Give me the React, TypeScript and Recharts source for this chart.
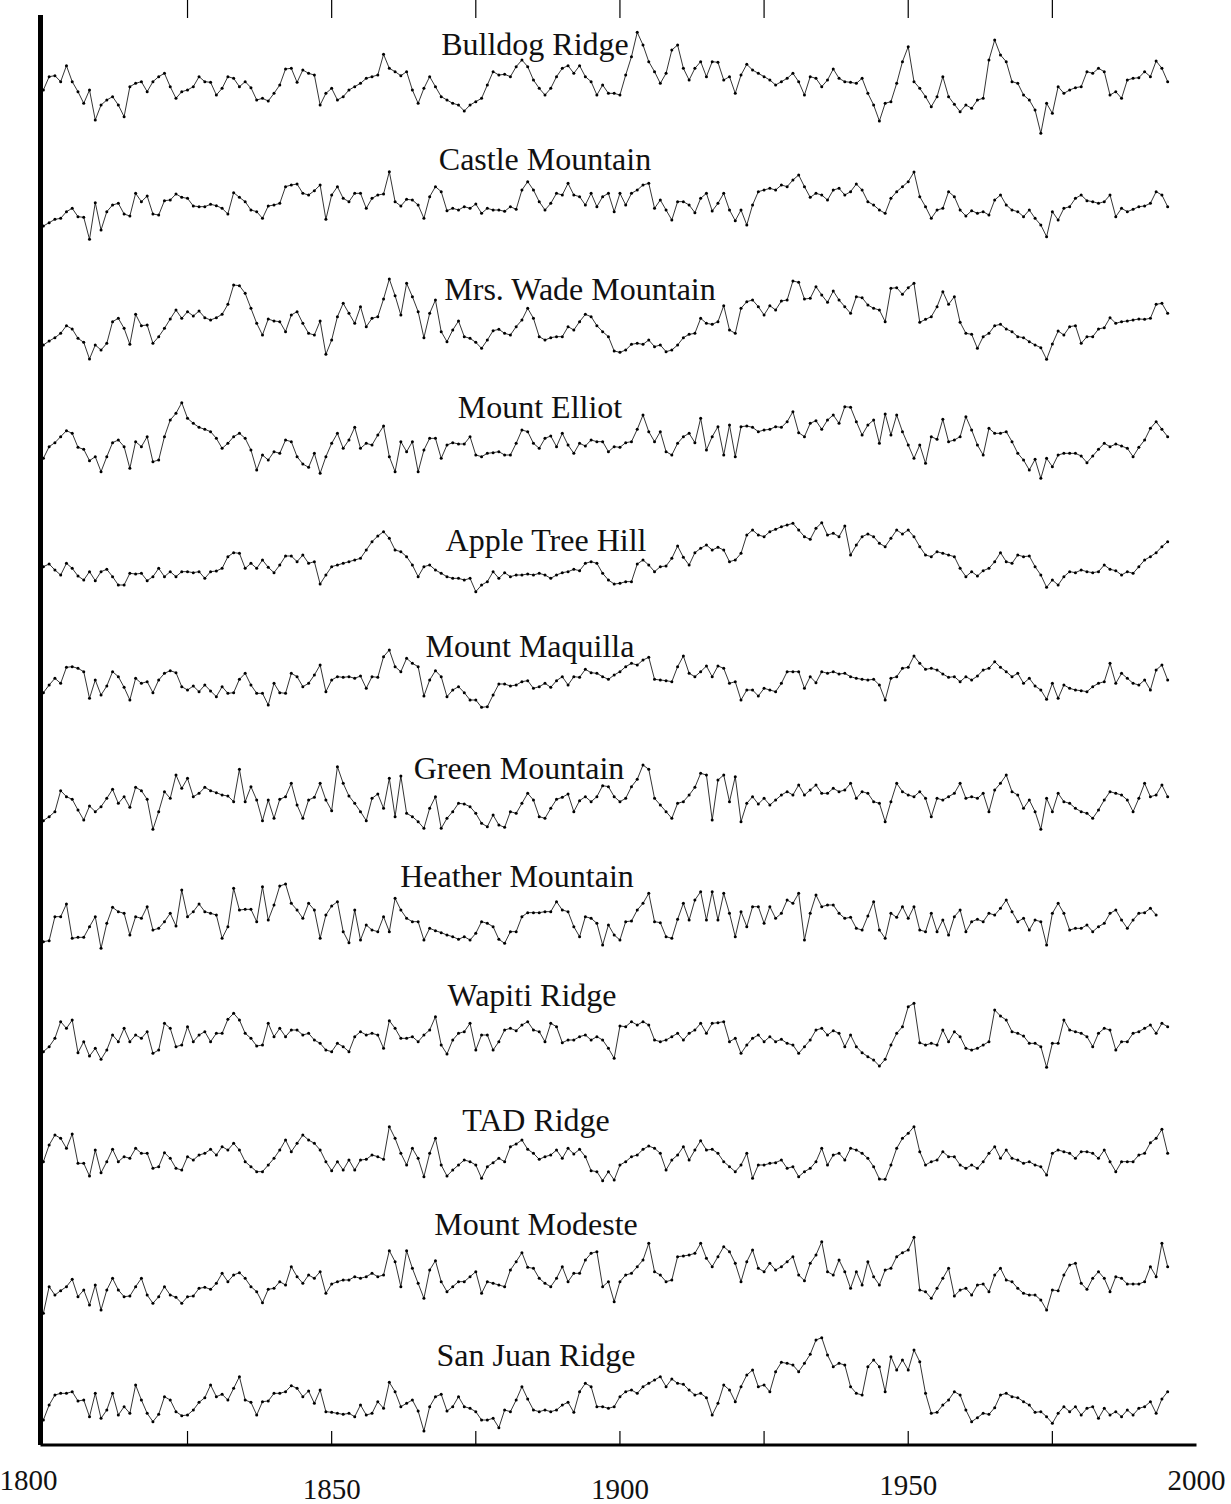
import React from "react";
import { ComposedChart, Line, XAxis, YAxis, ReferenceLine } from "recharts";

// Tree-ring chronologies, one value per year starting at FIRST_YEAR
const FIRST_YEAR = 1800;

const bulldogRidge = [
  205, 245, 248, 230, 278, 230, 200, 165, 205, 115,
  160, 175, 185, 160, 125, 215, 225, 230, 200, 230,
  245, 255, 215, 180, 200, 205, 215, 245, 230, 228,
  190, 210, 245, 240, 215, 230, 212, 175, 180, 172,
  195, 220, 268, 270, 228, 265, 255, 250, 160, 195,
  210, 175, 185, 205, 215, 225, 240, 245, 250, 312,
  270, 260, 248, 260, 205, 165, 210, 245, 215, 185,
  175, 165, 160, 142, 160, 170, 180, 220, 260, 250,
  252, 245, 275, 295, 275, 235, 210, 190, 210, 245,
  270, 278, 255, 278, 245, 230, 190, 220, 195, 195,
  190, 250, 305, 378, 340, 290, 260, 225, 255, 325,
  340, 270, 235, 270, 290, 245, 290, 288, 235, 245,
  195, 250, 282, 265, 255, 245, 235, 220, 230, 240,
  255, 230, 190, 245, 240, 215, 235, 268, 240, 230,
  228, 225, 240, 195, 160, 112, 165, 170, 225, 290,
  335, 230, 210, 185, 155, 185, 245, 185, 162, 140,
  160, 150, 175, 180, 295, 355, 310, 290, 230, 225,
  190, 175, 145, 75, 165, 135, 215, 195, 205, 212,
  215, 260, 255, 270, 260, 190, 200, 180, 235, 240,
  242, 260, 245, 292, 270, 230,
];

const castleMountain = [
  142, 152, 162, 165, 185, 195, 170, 168, 102, 212,
  130, 185, 205, 210, 178, 172, 240, 215, 232, 178,
  175, 218, 220, 238, 228, 225, 202, 200, 200, 207,
  203, 195, 178, 242, 228, 215, 190, 185, 165, 202,
  205, 210, 260, 265, 268, 240, 235, 248, 265, 162,
  235, 260, 225, 215, 240, 240, 195, 225, 235, 238,
  305, 215, 202, 222, 220, 205, 165, 230, 260, 245,
  188, 195, 190, 200, 195, 208, 180, 195, 190, 190,
  186, 200, 192, 250, 275, 250, 215, 190, 210, 240,
  235, 270, 235, 230, 205, 240, 200, 230, 240, 185,
  240, 205, 240, 250, 265, 270, 195, 220, 190, 160,
  215, 215, 205, 182, 225, 240, 187, 210, 240, 190,
  158, 190, 145, 205, 245, 250, 255, 250, 265, 260,
  280, 295, 260, 228, 240, 235, 220, 250, 255, 235,
  245, 268, 250, 215, 205, 190, 180, 225, 245, 260,
  275, 304, 230, 200, 165, 190, 195, 245, 230, 190,
  172, 188, 180, 185, 175, 220, 235, 205, 190, 185,
  170, 190, 165, 145, 110, 185, 160, 195, 200, 225,
  235, 218, 215, 210, 215, 235, 170, 195, 185, 192,
  200, 202, 210, 245, 235, 200,
];

const mrsWadeMountain = [
  160, 172, 182, 195, 218, 208, 180, 168, 118, 160,
  145, 165, 230, 240, 210, 162, 252, 218, 220, 165,
  185, 210, 238, 265, 240, 260, 247, 262, 242, 235,
  242, 252, 282, 340, 338, 315, 270, 225, 190, 238,
  232, 230, 200, 250, 260, 225, 195, 190, 232, 132,
  175, 245, 285, 255, 225, 275, 215, 240, 245, 298,
  358, 308, 250, 345, 305, 260, 182, 255, 295, 200,
  170, 205, 232, 185, 180, 168, 150, 175, 203, 207,
  195, 190, 215, 235, 270, 240, 185, 175, 182, 185,
  185, 215, 205, 230, 252, 245, 218, 200, 185, 142,
  138, 145, 162, 165, 162, 175, 155, 160, 140, 145,
  160, 182, 192, 195, 240, 225, 222, 230, 278, 205,
  195, 270, 290, 295, 275, 250, 278, 265, 292, 295,
  352, 348, 298, 300, 335, 310, 288, 322, 295, 275,
  255, 305, 302, 280, 270, 265, 230, 330, 332, 312,
  332, 345, 228, 237, 245, 275, 320, 282, 305, 228,
  195, 192, 150, 185, 195, 218, 222, 208, 200, 185,
  182, 170, 160, 152, 117, 163, 202, 190, 215, 218,
  165, 185, 185, 208, 212, 242, 225, 230, 232, 235,
  238, 237, 240, 282, 285, 255,
];

const mountElliot = [
  195, 230, 242, 260, 278, 270, 228, 222, 188, 200,
  155, 200, 242, 250, 230, 165, 245, 230, 260, 185,
  190, 260, 310, 330, 362, 315, 300, 288, 282, 275,
  255, 225, 240, 260, 270, 255, 220, 160, 205, 190,
  215, 210, 250, 245, 200, 178, 168, 210, 150, 200,
  240, 270, 225, 250, 288, 225, 240, 235, 265, 292,
  200, 155, 245, 215, 245, 155, 220, 255, 255, 195,
  235, 242, 238, 238, 260, 205, 200, 210, 212, 215,
  205, 205, 240, 280, 275, 240, 225, 255, 262, 230,
  270, 235, 210, 240, 232, 250, 245, 245, 215, 230,
  228, 242, 245, 282, 325, 275, 245, 275, 215, 205,
  240, 260, 270, 242, 315, 220, 260, 290, 205, 295,
  200, 290, 292, 288, 275, 280, 282, 290, 288, 305,
  335, 272, 260, 300, 308, 282, 310, 325, 300, 350,
  348, 305, 265, 295, 310, 240, 328, 265, 325, 275,
  235, 195, 235, 180, 260, 252, 312, 245, 250, 260,
  320, 280, 235, 205, 285, 270, 270, 275, 245, 210,
  190, 160, 192, 135, 195, 170, 205, 210, 210, 210,
  202, 182, 202, 222, 240, 230, 238, 232, 225, 200,
  228, 250, 285, 305, 282, 260,
];

const appleTreeHill = [
  230, 238, 220, 205, 240, 225, 202, 190, 215, 188,
  215, 222, 200, 175, 175, 210, 208, 210, 188, 200,
  225, 200, 215, 200, 215, 215, 212, 215, 195, 215,
  217, 225, 260, 272, 270, 225, 240, 225, 250, 228,
  212, 235, 262, 262, 245, 265, 240, 245, 178, 205,
  230, 235, 240, 245, 250, 255, 280, 305, 322, 335,
  315, 280, 275, 260, 235, 200, 230, 235, 220, 210,
  200, 195, 195, 190, 195, 155, 175, 185, 215, 195,
  212, 200, 205, 205, 208, 205, 210, 205, 195, 205,
  212, 215, 222, 218, 240, 245, 240, 210, 190, 178,
  180, 185, 185, 238, 250, 235, 215, 230, 232, 255,
  292, 258, 235, 272, 285, 295, 280, 288, 280, 245,
  250, 270, 325, 340, 325, 320, 335, 342, 350, 355,
  360, 340, 320, 312, 345, 362, 325, 330, 320, 352,
  265, 295, 320, 328, 320, 300, 290, 315, 340, 328,
  340, 320, 290, 265, 260, 275, 270, 265, 260, 225,
  200, 215, 202, 218, 225, 245, 272, 245, 240, 265,
  260, 262, 230, 205, 168, 190, 175, 200, 215, 212,
  220, 215, 212, 215, 235, 222, 218, 205, 215, 210,
  230, 250, 260, 272, 290, 305,
];

const mountMaquilla = [
  212, 235, 255, 240, 288, 290, 285, 275, 195, 250,
  205, 232, 275, 260, 228, 190, 255, 240, 245, 212,
  250, 270, 278, 272, 230, 220, 232, 215, 235, 217,
  200, 230, 210, 212, 252, 270, 235, 210, 210, 175,
  240, 212, 210, 270, 260, 230, 240, 265, 295, 215,
  250, 260, 258, 260, 255, 262, 225, 260, 258, 320,
  340, 290, 275, 315, 300, 290, 202, 250, 278, 260,
  200, 220, 230, 212, 190, 190, 168, 170, 205, 238,
  238, 232, 235, 245, 248, 225, 230, 240, 228, 248,
  260, 235, 260, 258, 282, 272, 270, 260, 252, 265,
  275, 290, 300, 295, 310, 318, 252, 250, 248, 245,
  290, 322, 270, 260, 275, 292, 260, 292, 285, 240,
  245, 190, 220, 220, 202, 225, 220, 215, 240, 275,
  275, 275, 225, 260, 242, 275, 270, 275, 268, 270,
  260, 255, 252, 250, 252, 235, 190, 255, 260, 285,
  288, 322, 300, 282, 285, 280, 268, 258, 260, 245,
  260, 250, 262, 280, 285, 305, 288, 275, 260, 270,
  240, 255, 232, 220, 192, 240, 195, 235, 225, 220,
  218, 215, 230, 240, 245, 300, 240, 270, 255, 240,
  235, 250, 220, 280, 295, 250,
];

const greenMountain = [
  188, 200, 215, 278, 260, 252, 220, 190, 232, 215,
  230, 255, 282, 240, 260, 228, 288, 278, 252, 162,
  215, 275, 255, 325, 285, 315, 260, 270, 288, 278,
  272, 265, 262, 245, 342, 245, 290, 250, 188, 250,
  195, 252, 260, 300, 235, 195, 250, 258, 300, 250,
  218, 350, 300, 262, 240, 215, 188, 255, 268, 225,
  315, 200, 322, 210, 200, 185, 165, 225, 260, 165,
  195, 215, 240, 238, 230, 210, 180, 170, 205, 175,
  168, 215, 210, 240, 270, 250, 200, 195, 225, 252,
  258, 268, 215, 248, 260, 245, 260, 293, 290, 260,
  245, 255, 290, 312, 355, 342, 255, 235, 215, 195,
  240, 245, 265, 288, 330, 325, 190, 310, 325, 245,
  320, 185, 240, 260, 238, 255, 235, 250, 265, 275,
  265, 295, 265, 280, 295, 270, 270, 285, 275, 280,
  300, 255, 275, 270, 245, 240, 185, 245, 300, 275,
  265, 260, 275, 255, 200, 255, 250, 260, 270, 300,
  255, 260, 255, 270, 215, 280, 300, 325, 275, 265,
  225, 250, 215, 162, 255, 215, 270, 245, 240, 225,
  215, 210, 195, 220, 250, 275, 270, 265, 250, 215,
  255, 300, 260, 265, 295, 260,
];

const heatherMountain = [
  155, 158, 230, 230, 268, 165, 168, 168, 200, 230,
  135, 210, 258, 245, 240, 175, 230, 225, 260, 190,
  195, 215, 240, 202, 310, 230, 245, 268, 245, 240,
  235, 165, 200, 315, 250, 252, 252, 215, 320, 220,
  265, 322, 328, 270, 250, 225, 270, 250, 165, 235,
  262, 275, 185, 152, 250, 160, 205, 190, 185, 230,
  185, 285, 250, 225, 215, 215, 160, 195, 188, 182,
  175, 170, 162, 170, 160, 180, 215, 210, 200, 162,
  150, 185, 185, 230, 242, 242, 242, 245, 245, 275,
  250, 245, 200, 170, 230, 225, 210, 145, 205, 175,
  160, 215, 217, 250, 270, 300, 215, 212, 170, 165,
  222, 270, 220, 280, 305, 220, 305, 220, 300, 240,
  170, 245, 200, 260, 260, 210, 260, 225, 240, 280,
  270, 300, 160, 240, 295, 260, 265, 265, 240, 225,
  228, 195, 190, 232, 275, 190, 165, 240, 228, 260,
  225, 260, 190, 185, 240, 185, 220, 175, 230, 250,
  185, 215, 222, 215, 240, 235, 255, 280, 245, 215,
  225, 190, 220, 215, 145, 240, 270, 240, 190, 195,
  195, 205, 185, 200, 210, 240, 250, 220, 195, 220,
  240, 242, 255, 235,
];

const wapitiRidge = [
  185, 200, 225, 275, 255, 280, 182, 215, 172, 195,
  162, 190, 235, 215, 255, 215, 235, 225, 245, 180,
  190, 270, 255, 200, 205, 260, 215, 235, 245, 215,
  240, 240, 282, 300, 280, 240, 225, 202, 205, 270,
  230, 255, 230, 250, 250, 235, 240, 220, 210, 190,
  185, 210, 200, 185, 230, 245, 235, 240, 235, 195,
  278, 255, 225, 225, 230, 215, 235, 250, 290, 205,
  178, 220, 240, 245, 270, 190, 235, 235, 190, 215,
  250, 255, 248, 265, 275, 250, 245, 215, 270, 260,
  212, 220, 220, 230, 235, 220, 230, 220, 195, 165,
  262, 260, 275, 265, 275, 265, 220, 215, 220, 230,
  240, 220, 240, 250, 270, 240, 270, 272, 275, 215,
  225, 180, 205, 225, 235, 215, 230, 215, 222, 210,
  205, 180, 200, 220, 250, 255, 235, 248, 240, 200,
  235, 200, 182, 170, 160, 142, 162, 205, 240, 260,
  320, 330, 212, 205, 210, 205, 250, 215, 245, 230,
  195, 190, 195, 205, 215, 310, 292, 280, 245, 240,
  232, 210, 210, 200, 138, 210, 210, 280, 250, 245,
  240, 230, 200, 240, 255, 250, 190, 215, 215, 240,
  245, 255, 265, 240, 270, 260,
];

const tadRidge = [
  215, 265, 295, 285, 255, 298, 210, 210, 172, 250,
  182, 215, 252, 215, 230, 225, 255, 240, 240, 195,
  200, 242, 225, 195, 190, 230, 220, 235, 240, 252,
  235, 260, 250, 270, 250, 215, 200, 185, 185, 205,
  225, 250, 280, 245, 270, 295, 280, 270, 250, 215,
  188, 215, 190, 220, 190, 220, 222, 235, 230, 222,
  320, 285, 240, 205, 255, 225, 170, 240, 285, 205,
  172, 190, 205, 220, 215, 205, 165, 200, 212, 225,
  215, 260, 268, 280, 252, 240, 222, 230, 235, 250,
  225, 255, 238, 252, 230, 188, 185, 158, 185, 160,
  205, 215, 230, 235, 252, 262, 255, 240, 190, 220,
  235, 260, 220, 250, 278, 250, 252, 240, 215, 200,
  185, 205, 240, 165, 205, 205, 210, 212, 220, 195,
  200, 170, 185, 195, 215, 255, 205, 235, 240, 220,
  255, 250, 240, 225, 200, 163, 162, 205, 255, 285,
  300, 320, 245, 205, 215, 220, 245, 230, 230, 205,
  195, 205, 195, 215, 240, 260, 225, 250, 225, 220,
  210, 215, 205, 200, 175, 240, 250, 245, 240, 225,
  245, 245, 240, 225, 250, 215, 185, 215, 215, 215,
  235, 240, 272, 285, 312, 240,
];

const mountModeste = [
  90, 170, 145, 158, 170, 192, 140, 160, 115, 175,
  100, 160, 195, 160, 140, 142, 170, 195, 145, 120,
  140, 170, 145, 138, 120, 140, 142, 165, 168, 162,
  180, 210, 185, 205, 212, 195, 170, 155, 122, 162,
  165, 185, 175, 230, 200, 180, 205, 195, 215, 150,
  178, 185, 190, 190, 200, 195, 200, 210, 200, 205,
  278, 245, 170, 278, 225, 180, 135, 220, 248, 185,
  155, 170, 185, 185, 200, 215, 150, 185, 180, 175,
  170, 220, 245, 272, 228, 225, 195, 180, 170, 195,
  230, 185, 210, 210, 250, 270, 275, 170, 185, 125,
  185, 205, 210, 230, 250, 300, 215, 205, 185, 190,
  260, 262, 265, 270, 300, 255, 230, 260, 290, 275,
  240, 185, 245, 280, 225, 215, 240, 220, 230, 245,
  260, 205, 188, 240, 265, 305, 215, 205, 250, 215,
  165, 215, 175, 245, 200, 175, 220, 225, 260, 272,
  280, 318, 160, 155, 135, 165, 195, 225, 142, 160,
  165, 145, 175, 178, 155, 205, 225, 190, 185, 165,
  150, 145, 145, 130, 100, 160, 158, 205, 235, 240,
  180, 162, 195, 215, 195, 155, 200, 195, 178, 178,
  178, 185, 230, 200, 300, 230,
];

const sanJuanRidge = [
  115, 160, 190, 195, 195, 200, 172, 175, 125, 195,
  120, 145, 195, 130, 155, 135, 220, 175, 135, 110,
  132, 185, 175, 140, 128, 130, 145, 168, 182, 220,
  185, 192, 175, 210, 245, 175, 168, 130, 170, 172,
  195, 195, 200, 218, 210, 185, 202, 165, 205, 140,
  138, 135, 132, 135, 125, 160, 130, 135, 170, 150,
  228, 200, 155, 165, 175, 142, 82, 155, 185, 192,
  142, 155, 185, 155, 150, 140, 115, 115, 120, 92,
  145, 140, 175, 215, 178, 145, 140, 145, 140, 145,
  160, 168, 138, 200, 225, 215, 155, 155, 150, 155,
  185, 200, 205, 195, 215, 225, 235, 245, 215, 238,
  225, 222, 205, 190, 195, 182, 130, 165, 220, 205,
  170, 215, 250, 265, 215, 220, 200, 260, 288, 285,
  280, 260, 285, 312, 355, 362, 310, 275, 285, 280,
  215, 195, 190, 275, 295, 275, 200, 305, 265, 295,
  265, 325, 290, 195, 135, 138, 160, 175, 200, 190,
  145, 110, 122, 135, 132, 152, 190, 195, 185, 182,
  170, 160, 138, 140, 125, 105, 135, 155, 140, 155,
  130, 150, 155, 120, 150, 130, 140, 125, 145, 130,
  150, 155, 170, 135, 178, 200,
];

const TICK_YEARS = [1800, 1825, 1850, 1875, 1900, 1925, 1950, 1975, 2000];
const YEAR_DOMAIN: [number, number] = [1799.5, 2000];

const SITES = [
  { key: "bulldog", name: "Bulldog Ridge", values: bulldogRidge },
  { key: "castle", name: "Castle Mountain", values: castleMountain },
  { key: "mrsWade", name: "Mrs. Wade Mountain", values: mrsWadeMountain },
  { key: "elliot", name: "Mount Elliot", values: mountElliot },
  { key: "appleTree", name: "Apple Tree Hill", values: appleTreeHill },
  { key: "maquilla", name: "Mount Maquilla", values: mountMaquilla },
  { key: "green", name: "Green Mountain", values: greenMountain },
  { key: "heather", name: "Heather Mountain", values: heatherMountain },
  { key: "wapiti", name: "Wapiti Ridge", values: wapitiRidge },
  { key: "tad", name: "TAD Ridge", values: tadRidge },
  { key: "modeste", name: "Mount Modeste", values: mountModeste },
  { key: "sanJuan", name: "San Juan Ridge", values: sanJuanRidge },
];

// ---- layout ----
const W = 1231;
const H = 1504;
const PLOT_LEFT = 40.5;
const PLOT_RIGHT = 1196.5;
const PLOT_TOP = 15;
const PLOT_BOTTOM = 1445;
const UNITS_PER_PX = 3;
const VALUE_REF = 400;
// pixel row where VALUE_REF sits for each band
const BAND_REF_Y = [25, 140, 265, 390, 510, 630, 750, 860, 980, 1100, 1210, 1325];
// title centre x and baseline y for each band
const TITLE_POS = [
  [535, 55], [545, 170], [580, 300], [540, 418], [546, 551], [530, 657],
  [519, 779], [517, 887], [532, 1006], [536, 1131], [536, 1235], [536, 1366],
];
// the year labels sit a little unevenly in the original figure
const YEAR_LABEL_SHIFT: Record<number, [number, number]> = {
  1800: [-15, 0], 1850: [0, 9], 1900: [0, 9], 1950: [0, 5], 2000: [0, 0],
};
const FONT = '"Liberation Serif", "Times New Roman", serif';

const rows = Array.from({ length: 196 }, (_, i) => {
  const row: Record<string, number | undefined> = { year: FIRST_YEAR + i };
  SITES.forEach((s) => {
    row[s.key] = s.values[i];
  });
  return row;
});

const bandDomain = (k: number): [number, number] => {
  const hi = VALUE_REF + UNITS_PER_PX * (BAND_REF_Y[k] - PLOT_TOP);
  return [hi - UNITS_PER_PX * (PLOT_BOTTOM - PLOT_TOP), hi];
};

const BottomTick = ({ x, y, payload }: any) => {
  const v = payload.value;
  const shift = YEAR_LABEL_SHIFT[v];
  return (
    <g>
      {v > 1800 && v < 2000 && (
        <line x1={x} x2={x} y1={y} y2={y - 14} stroke="#000" strokeWidth={1.2} />
      )}
      {shift && (
        <text
          x={x + shift[0]}
          y={y + 45 + shift[1]}
          textAnchor="middle"
          fontFamily={FONT}
          fontSize={29}
          fill="#111"
        >
          {v}
        </text>
      )}
    </g>
  );
};

const TopTick = ({ x, y, payload }: any) => {
  const v = payload.value;
  if (v <= 1800 || v >= 2000) return <g />;
  return <line x1={x} x2={x} y1={y - 15} y2={y + 3} stroke="#000" strokeWidth={1.2} />;
};

export default function App() {
  return (
    <div style={{ position: "absolute", left: 0, top: 0, width: W, height: H, background: "#fff" }}>
      <ComposedChart
        width={W}
        height={H}
        data={rows}
        margin={{ top: 0, left: PLOT_LEFT, right: W - PLOT_RIGHT, bottom: 0 }}
      >
        <XAxis
          dataKey="year"
          type="number"
          domain={YEAR_DOMAIN}
          allowDataOverflow
          ticks={TICK_YEARS}
          interval={0}
          height={H - PLOT_BOTTOM}
          tickSize={0}
          tickMargin={0}
          axisLine={{ stroke: "#000", strokeWidth: 3 }}
          tickLine={false}
          tick={<BottomTick />}
        />
        <XAxis
          xAxisId="top"
          orientation="top"
          dataKey="year"
          type="number"
          domain={YEAR_DOMAIN}
          allowDataOverflow
          ticks={TICK_YEARS}
          interval={0}
          height={PLOT_TOP}
          tickSize={0}
          tickMargin={0}
          axisLine={false}
          tickLine={false}
          tick={<TopTick />}
        />
        {SITES.map((s, k) => (
          <YAxis key={`y-${s.key}`} yAxisId={s.key} type="number" domain={bandDomain(k)} allowDataOverflow hide />
        ))}
        {/* thick left frame line */}
        <ReferenceLine x={YEAR_DOMAIN[0]} yAxisId={SITES[0].key} stroke="#000" strokeWidth={5} ifOverflow="visible" />
        {SITES.map((s) => (
          <Line
            key={s.key}
            yAxisId={s.key}
            dataKey={s.key}
            type="linear"
            stroke="#000"
            strokeWidth={0.8}
            dot={{ r: 1.5, fill: "#000", stroke: "none" }}
            activeDot={false}
            isAnimationActive={false}
          />
        ))}
      </ComposedChart>
      <svg
        width={W}
        height={H}
        style={{ position: "absolute", left: 0, top: 0, pointerEvents: "none" }}
      >
        {SITES.map((s, k) => (
          <text
            key={`t-${s.key}`}
            x={TITLE_POS[k][0]}
            y={TITLE_POS[k][1]}
            textAnchor="middle"
            fontFamily={FONT}
            fontSize={32}
            fill="#111"
          >
            {s.name}
          </text>
        ))}
      </svg>
    </div>
  );
}
